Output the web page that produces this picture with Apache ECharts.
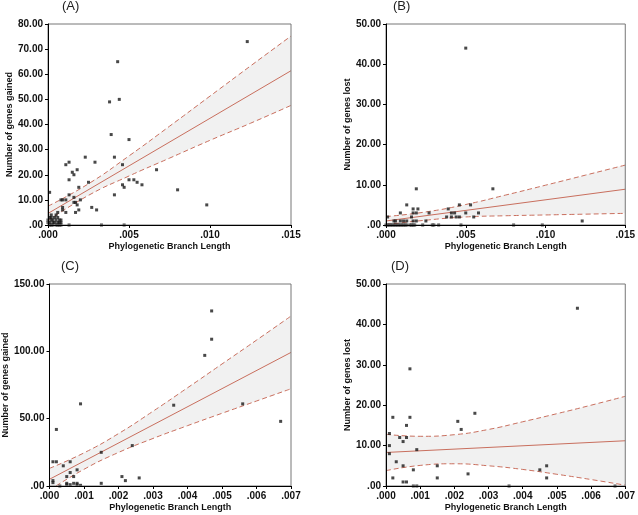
<!DOCTYPE html>
<html><head><meta charset="utf-8">
<script src="https://cdn.jsdelivr.net/npm/echarts@6/dist/echarts.min.js"></script>
<style>html,body{margin:0;padding:0;background:#fff}#c{width:638px;height:515px}</style>
</head><body><div id="c"></div>
<script>
// ---------- Panel A: genes gained vs branch length ----------
const aX = [0.0123,0.0043,0.0038,0.0044,0.0039,0.0050,0.0041,0.0023,0.0029,0.0011,0.0013,0.0015,0.0016,0.0018,0.0013,0.0019,0.0025,0.0046,0.0046,0.0047,0.0050,0.0053,0.0055,0.0058,0.0067,0.0080,0.0098,0.0041,0.0001,0.0013,0.0016,0.0008,0.0009,0.0011,0.0020,0.0016,0.0017,0.0018,0.0009,0.0009,0.0019,0.0027,0.0030,0.0017,0.0011,0.0006,0.0005,0.0002,0.0013,0.0033,0.0047,
  0.0000,0.0000,0.0001,0.0001,0.0001,0.0002,0.0002,0.0003,0.0003,0.0003,0.0004,0.0004,0.0005,0.0005,0.0006,0.0006,0.0007,0.0007,0.0008,0.0008,0.0008,0.0006,0.0002,0.0007];
const aY = [73,65,49,50,36,34,27,27,25,24,25,21,20,22,18,15,17,24,16,15,18,18,17,16,22,14,8,12,13,12,11,10,10,10,10,9,9,8,7,6,6,7,6,5,5,5,4,3,0,0,0,
  2,1,3,1,0,2,4,0,1,2,1,3,0,2,1,3,0,2,0,1,2,0,0,1];
const aBandX = [0,0.0025,0.005,0.0075,0.01,0.0125,0.015];
const aUpper = [7.5,16.4,27.5,39.3,51.3,63.3,75.2];
const aLower = [1.7,11.8,19.5,26.6,33.7,40.5,47.6];
const aLineX = [0,0.015];
const aLineY = [4.6,61.4];

// ---------- Panel B: genes lost vs branch length ----------
const bX = [0.0050,0.0019,0.0067,0.0013,0.0046,0.0053,0.0017,0.0020,0.0039,
  0.0009,0.0017,0.0019,0.0027,0.0041,0.0043,0.0050,0.0058,
  0.0001,0.0016,0.0038,0.0041,0.0044,0.0046,0.0055,
  0.0005,0.0006,0.0009,0.0011,0.0013,0.0017,0.0019,0.0025,0.0123,
  0.0000,0.0001,0.0002,0.0003,0.0004,0.0005,0.0006,0.0007,0.0008,0.0009,0.0010,0.0011,0.0012,0.0013,0.0015,0.0016,0.0017,0.0018,0.0023,0.0029,0.0030,0.0033,0.0047,0.0080,0.0098];
const bY = [44,9,9,5,5,5,4,4,4,
  3,3,3,3,3,3,3,3,
  2,2,2,2,2,2,2,
  1,1,1,1,1,1,1,1,1,
  0,0,0,0,0,0,0,0,0,0,0,0,0,0,0,0,0,0,0,0,0,0,0,0,0];
const bBandX = [0,0.0025,0.005,0.0075,0.01,0.0125,0.015];
const bUpper = [2.1,3.25,5.1,7.45,9.9,12.4,14.9];
const bLower = [0.1,1.2,2.0,2.3,2.5,2.7,2.9];
const bLineX = [0,0.015];
const bLineY = [1.0,8.9];

// ---------- Panel C: genes gained vs branch length ----------
const cX = [0.0047,0.0047,0.0045,0.0036,0.0056,0.0067,0.0009,0.0002,0.0001,0.0002,0.0006,0.0004,0.0015,0.0024,0.0008,0.0006,0.0005,0.0007,0.0021,0.0022,0.0026,0.0001,0.0001,0.0003,0.0015,0.0005,0.0005,0.0006,0.0007,0.0008,0.0008,0.0009];
const cY = [130,109,97,60,61,48,61,42,18,18,18,15,25,30,12,10,7,7,7,4,6,4,2.5,0,2,2,1,1,2,2,1,0.5];
const cBandX = [0,0.001,0.002,0.003,0.004,0.005,0.006,0.007];
const cUpper = [13.1,24.6,38.9,55.5,72.9,90.6,108.3,126.2];
const cLower = [-3.1,12.4,24.9,35.3,44.8,54.0,63.1,72.2];
const cLineX = [0,0.007];
const cLineY = [5.0,99.2];

// ---------- Panel D: genes lost vs branch length ----------
const dX = [0.0056,0.0007,0.0026,0.0021,0.0022,0.0002,0.0007,0.0006,0.0001,0.0004,0.0006,0.0005,0.0001,0.0009,0.0001,0.0003,0.0005,0.0015,0.0047,0.0008,0.0045,0.0024,0.0002,0.0015,0.0047,0.0005,0.0006,0.0008,0.0009,0.0036,0.0067];
const dY = [44,29,18,16,14,17,17,15,13,12,12,11,10,9,8,6,5,5,5,4,4,3,2,2,2,1,1,0,0,0,0];
const dBandX = [0,0.001,0.002,0.003,0.004,0.005,0.006,0.007];
const dUpper = [12.8,12.3,12.7,14.0,15.9,17.9,20.0,22.2];
const dLower = [3.8,5.1,5.5,5.0,4.1,2.9,1.6,0.2];
const dLineX = [0,0.007];
const dLineY = [8.3,11.2];

// ---------- tick settings ----------
const abXMax = 0.015, abXStep = 0.005;
const cdXMax = 0.007, cdXStep = 0.001;
const yMax = [80, 50, 150, 50];
const yStep = [10, 10, 50, 10];
const yNames = ['Number of genes gained','Number of genes lost','Number of genes gained','Number of genes lost'];
const xName = 'Phylogenetic Branch Length';
const panelLabels = ['(A)','(B)','(C)','(D)'];

const RED = '#c96f5e';
const FONT = 'Liberation Sans';
const fmtX = v => v.toFixed(3).replace(/^0/, '');
const fmtY = v => v.toFixed(2).replace(/^0/, '');

const grids = [
  {left: 48, top: 24, width: 243, height: 201},
  {left: 386, top: 24, width: 243, height: 201},
  {left: 48, top: 284, width: 243, height: 202},
  {left: 386, top: 284, width: 244, height: 202}
];
const yGaps = [33, 33, 39, 33];
const panels = [
  {x: aX, y: aY, bx: aBandX, up: aUpper, lo: aLower, lx: aLineX, ly: aLineY, xmax: abXMax, xstep: abXStep},
  {x: bX, y: bY, bx: bBandX, up: bUpper, lo: bLower, lx: bLineX, ly: bLineY, xmax: abXMax, xstep: abXStep},
  {x: cX, y: cY, bx: cBandX, up: cUpper, lo: cLower, lx: cLineX, ly: cLineY, xmax: cdXMax, xstep: cdXStep},
  {x: dX, y: dY, bx: dBandX, up: dUpper, lo: dLower, lx: dLineX, ly: dLineY, xmax: cdXMax, xstep: cdXStep}
];

const xAxis = [], yAxis = [], series = [];
panels.forEach((p, i) => {
  xAxis.push({
    type: 'value', gridIndex: i, min: 0, max: p.xmax, interval: p.xstep, z: 10,
    name: xName, nameLocation: 'middle', nameGap: 17,
    nameTextStyle: {fontFamily: FONT, fontWeight: 'bold', fontSize: 9, color: '#111'},
    axisLine: {show: true, lineStyle: {color: '#000', width: 1}},
    axisTick: {show: true, length: 3, lineStyle: {color: '#000'}},
    axisLabel: {formatter: fmtX, fontFamily: FONT, fontWeight: 'bold', fontSize: 10, color: '#111', margin: 5},
    splitLine: {show: false}
  });
  yAxis.push({
    type: 'value', gridIndex: i, min: 0, max: yMax[i], interval: yStep[i], z: 10,
    name: yNames[i], nameLocation: 'middle', nameGap: yGaps[i],
    nameTextStyle: {fontFamily: FONT, fontWeight: 'bold', fontSize: 9, color: '#111'},
    axisLine: {show: true, lineStyle: {color: '#000', width: 1}},
    axisTick: {show: true, length: 3, lineStyle: {color: '#000'}},
    axisLabel: {formatter: fmtY, fontFamily: FONT, fontWeight: 'bold', fontSize: 10, color: '#111', margin: 5},
    splitLine: {show: false}
  });
  const upPts = p.bx.map((x, k) => [x, p.up[k]]);
  const loPts = p.bx.map((x, k) => [x, p.lo[k]]);
  // confidence band: grey fill under the upper bound, white fill under the lower bound
  series.push({
    type: 'line', xAxisIndex: i, yAxisIndex: i, data: upPts, smooth: true, symbol: 'none',
    lineStyle: {opacity: 0}, areaStyle: {color: '#f1f1f1', opacity: 1}, silent: true, z: 1
  });
  series.push({
    type: 'line', xAxisIndex: i, yAxisIndex: i, data: loPts, smooth: true, symbol: 'none',
    lineStyle: {opacity: 0}, areaStyle: {color: '#ffffff', opacity: 1}, silent: true, z: 2
  });
  series.push({
    type: 'line', xAxisIndex: i, yAxisIndex: i, data: upPts, smooth: true, symbol: 'none',
    lineStyle: {color: RED, width: 1, type: [5, 3]}, silent: true, z: 3
  });
  series.push({
    type: 'line', xAxisIndex: i, yAxisIndex: i, data: loPts, smooth: true, symbol: 'none',
    lineStyle: {color: RED, width: 1, type: [5, 3]}, silent: true, z: 3
  });
  series.push({
    type: 'line', xAxisIndex: i, yAxisIndex: i, data: p.lx.map((x, k) => [x, p.ly[k]]), symbol: 'none',
    lineStyle: {color: RED, width: 1}, silent: true, z: 4
  });
  series.push({
    type: 'scatter', xAxisIndex: i, yAxisIndex: i, data: p.x.map((x, k) => [x, p.y[k]]),
    symbol: 'rect', symbolSize: 3, itemStyle: {color: '#1a1a1a'}, silent: true, z: 5
  });
});

const labelPos = [[71, 7], [402, 7], [70, 267], [400, 267]];
const graphic = panelLabels.map((t, i) => ({
  type: 'text', left: labelPos[i][0] - 9, top: labelPos[i][1] - 7,
  style: {text: t, font: '13px "' + FONT + '"', fill: '#222'}
}));

const chart = echarts.init(document.getElementById('c'), null, {renderer: 'canvas'});
chart.setOption({
  animation: false,
  backgroundColor: '#fff',
  grid: grids.map(g => Object.assign({show: true, z: 10, borderColor: '#777', borderWidth: 1, backgroundColor: 'transparent'}, g)),
  xAxis, yAxis, series, graphic
});
</script></body></html>
